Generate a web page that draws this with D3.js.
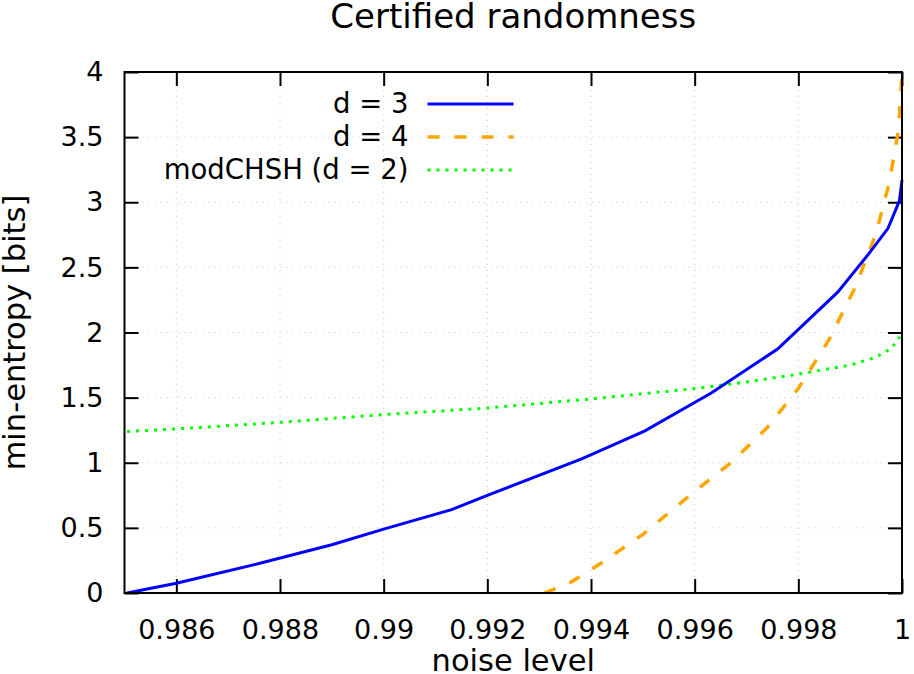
<!DOCTYPE html>
<html>
<head>
<meta charset="utf-8">
<script src="https://cdn.jsdelivr.net/npm/d3@7"></script>
<style>
  body { margin: 0; background: #fff; }
  svg { font-family: "DejaVu Sans", sans-serif; }
</style>
</head>
<body>
<svg id="svg" width="914" height="674"></svg>
<script>
// values
const d3Noise = [0.98505, 0.9860, 0.98763, 0.9890, 0.9900, 0.99131, 0.9920, 0.99382, 0.99504, 0.99632, 0.99760, 0.99876, 0.99935, 0.99973, 0.99995, 1.0];
const d3Entropy = [0.0, 0.075, 0.23, 0.37, 0.49, 0.64, 0.75, 1.03, 1.245, 1.535, 1.873, 2.31, 2.60, 2.80, 3.01, 3.17];

const d4Noise = [0.99310, 0.9936, 0.9942, 0.9950, 0.9960, 0.9967, 0.9974, 0.9980, 0.9986, 0.9991, 0.99950, 0.99976, 0.99993, 1.0];
const d4Entropy = [0.0, 0.08, 0.23, 0.45, 0.78, 1.0, 1.27, 1.57, 1.95, 2.35, 2.76, 3.16, 3.55, 3.98];

const chshNoise = [0.98505, 0.986, 0.988, 0.990, 0.992, 0.994, 0.996, 0.997, 0.998, 0.9990, 0.9995, 0.9998, 1.0];
const chshEntropy = [1.24, 1.26, 1.31, 1.37, 1.42, 1.49, 1.57, 1.62, 1.68, 1.75, 1.81, 1.88, 1.99];

const xTicks = [0.986, 0.988, 0.990, 0.992, 0.994, 0.996, 0.998, 1.0];
const yTicks = [0, 0.5, 1, 1.5, 2, 2.5, 3, 3.5, 4];

const seriesNames = ['d = 3', 'd = 4', 'modCHSH (d = 2)'];
const seriesColors = ['#0000ff', '#ffa500', '#00ff00'];
const seriesDash = [null, '12,15', '3,6'];

const svg = d3.select('#svg');
const padding = {top: 72, right: 12, bottom: 81, left: 124.5};
const width = 914 - padding.left - padding.right;
const height = 674 - padding.top - padding.bottom;

const xScale = d3.scaleLinear().domain([0.985, 1.0]).range([0, width]);
const yScale = d3.scaleLinear().domain([0, 4]).range([height, 0]);

const g = svg.append('g')
    .attr('transform', 'translate(' + padding.left + ',' + padding.top + ')');

// grid
const grid = g.append('g').attr('class', 'grid');
grid.selectAll('line.gx').data(xTicks.slice(0, -1)).enter().append('line')
    .attr('x1', d => xScale(d)).attr('x2', d => xScale(d))
    .attr('y1', 0).attr('y2', height);
grid.selectAll('line.gy').data(yTicks.slice(1, -1)).enter().append('line')
    .attr('x1', 0).attr('x2', width)
    .attr('y1', d => yScale(d)).attr('y2', d => yScale(d));
grid.selectAll('line')
    .attr('stroke', '#c8c8c8').attr('stroke-width', 1).attr('stroke-dasharray', '1,5');

const fmt = d => String(+d.toFixed(3));
const tick = 14;

const xAxis = g.append('g')
    .attr('transform', 'translate(0,' + height + ')')
    .call(d3.axisBottom(xScale).tickValues(xTicks).tickFormat(fmt).tickSize(-tick).tickPadding(tick + 13));
const xTop = g.append('g')
    .call(d3.axisTop(xScale).tickValues(xTicks).tickFormat('').tickSize(-tick));
const yAxis = g.append('g')
    .call(d3.axisLeft(yScale).tickValues(yTicks).tickFormat(d => String(d)).tickSize(-tick).tickPadding(tick + 7));
const yRight = g.append('g')
    .attr('transform', 'translate(' + width + ',0)')
    .call(d3.axisRight(yScale).tickValues(yTicks).tickFormat('').tickSize(-tick));

[xAxis, xTop, yAxis, yRight].forEach(a => {
    a.select('.domain').remove();
    a.selectAll('line').attr('stroke', '#000').attr('stroke-width', 2);
    a.selectAll('text').attr('font-size', 27).attr('fill', '#000')
        .attr('font-family', '"DejaVu Sans", sans-serif');
});

// curves
const line = d3.line().x(d => xScale(d[0])).y(d => yScale(d[1]));
const series = [
    d3.zip(d3Noise, d3Entropy),
    d3.zip(d4Noise, d4Entropy),
    d3.zip(chshNoise, chshEntropy)
];

svg.append('clipPath').attr('id', 'clip')
    .append('rect').attr('x', -2).attr('y', -2).attr('width', width + 4).attr('height', height + 4);

g.append('g').attr('clip-path', 'url(#clip)')
    .selectAll('path').data([series[2], series[1], series[0]]).enter().append('path')
    .attr('d', line)
    .attr('fill', 'none')
    .attr('stroke', (d, i) => seriesColors[2 - i])
    .attr('stroke-width', (d, i) => 2 - i === 1 ? 3.5 : 3)
    .attr('stroke-dasharray', (d, i) => seriesDash[2 - i]);

// frame
g.append('rect')
    .attr('width', width).attr('height', height)
    .attr('fill', 'none').attr('stroke', '#000').attr('stroke-width', 2);

// legend
const legend = g.append('g');
seriesNames.forEach((name, i) => {
    const y = 32 + i * 33;
    legend.append('text')
        .attr('x', 284).attr('y', y + 9)
        .attr('text-anchor', 'end')
        .attr('font-size', 27.5)
        .text(name);
    legend.append('line')
        .attr('x1', 303).attr('x2', 389)
        .attr('y1', y).attr('y2', y)
        .attr('stroke', seriesColors[i])
        .attr('stroke-width', i === 1 ? 3.5 : 3)
        .attr('stroke-dasharray', seriesDash[i]);
});

// title and axis labels
svg.append('text')
    .attr('x', padding.left + width / 2).attr('y', 28)
    .attr('text-anchor', 'middle').attr('font-size', 34)
    .text('Certified randomness');

svg.append('text')
    .attr('x', padding.left + width / 2).attr('y', 671)
    .attr('text-anchor', 'middle').attr('font-size', 30.5)
    .text('noise level');

svg.append('text')
    .attr('transform', 'translate(25,' + (padding.top + height / 2) + ') rotate(-90)')
    .attr('text-anchor', 'middle').attr('font-size', 30.5)
    .text('min-entropy [bits]');
</script>
</body>
</html>
